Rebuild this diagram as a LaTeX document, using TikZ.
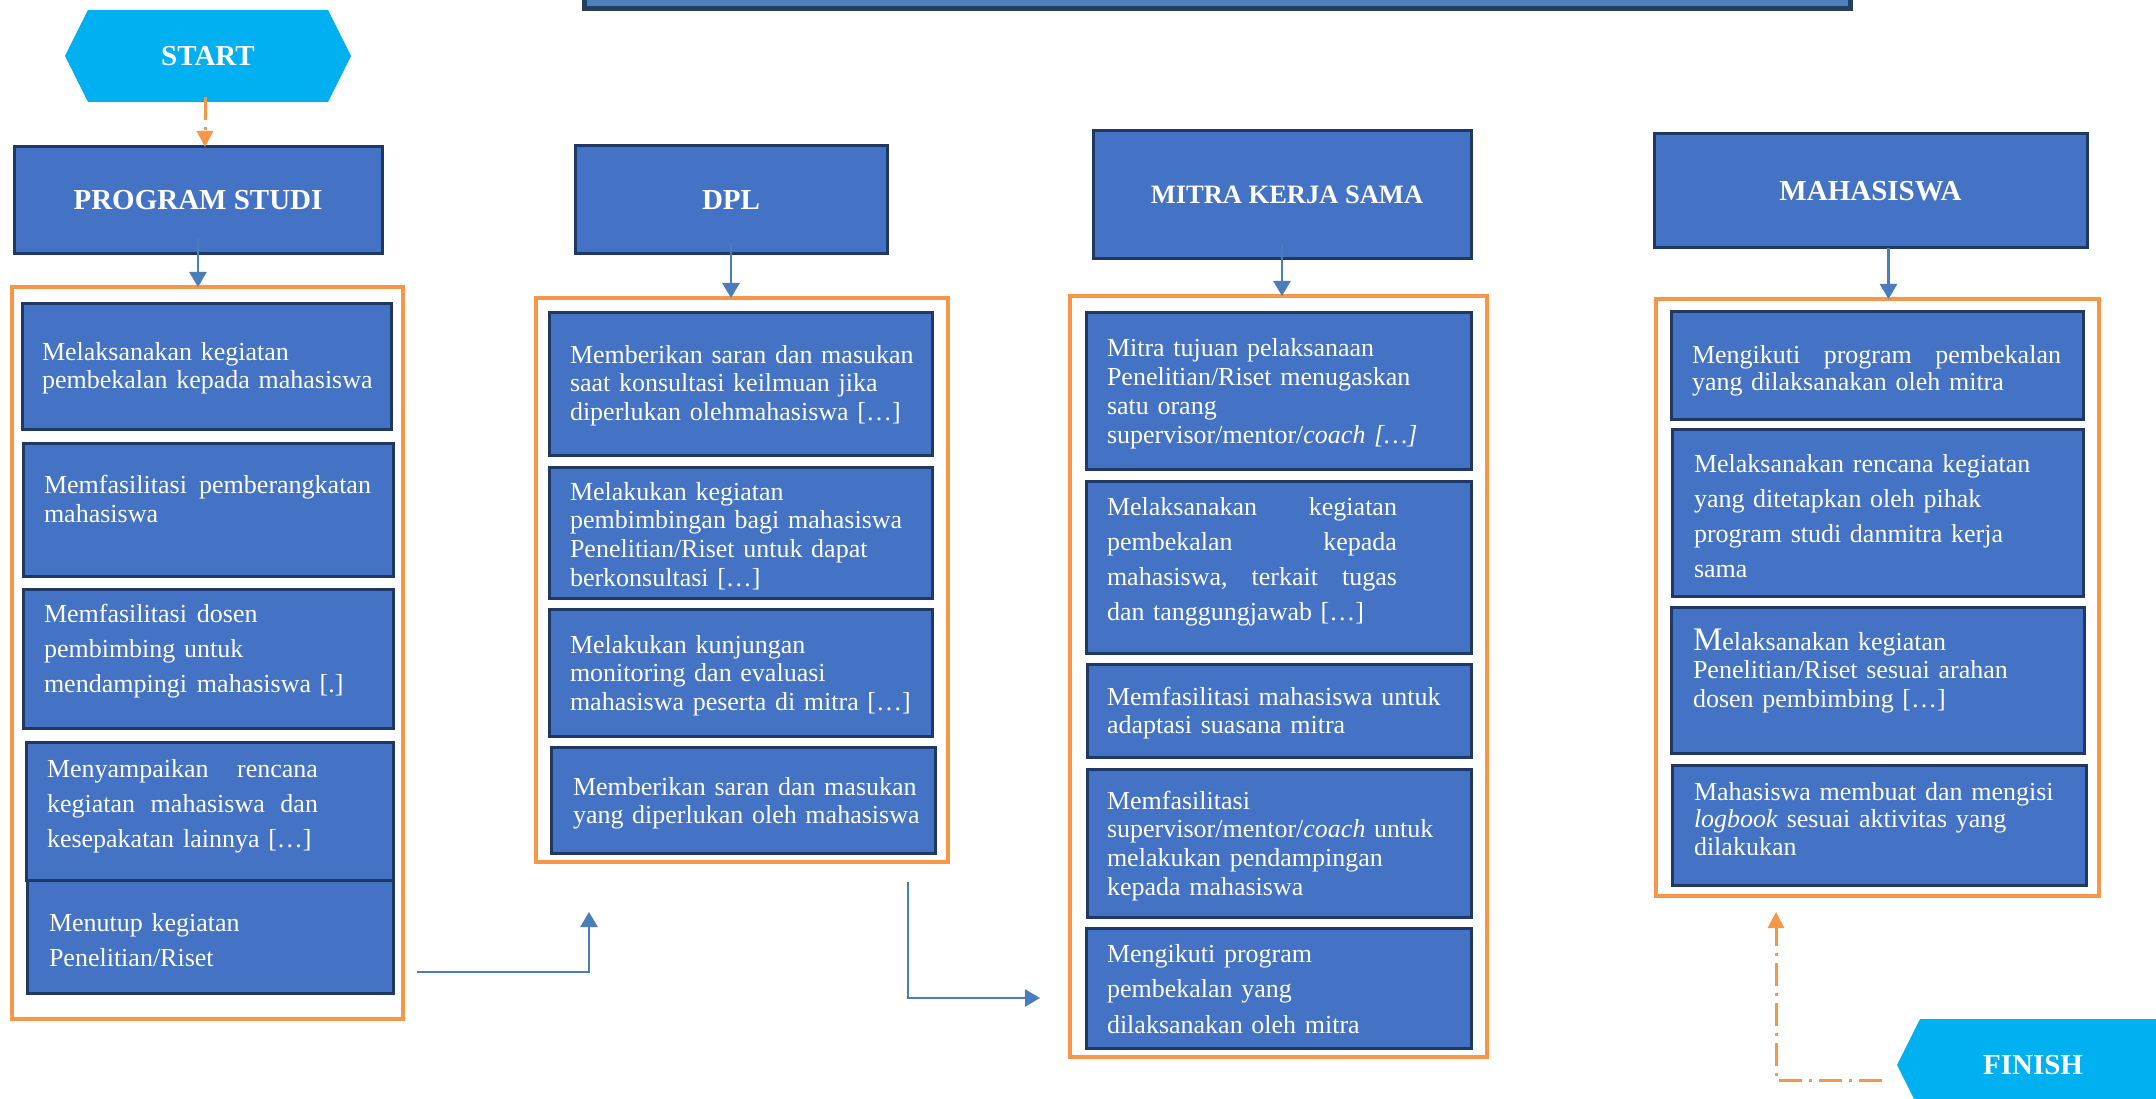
\documentclass[tikz,border=0pt]{standalone}
\usepackage{fontspec}
\setmainfont{Liberation Serif}
\usetikzlibrary{arrows.meta,fit,backgrounds}

\definecolor{boxblue}{HTML}{4472C4}
\definecolor{boxline}{HTML}{1F3864}
\definecolor{frameorange}{HTML}{F79646}
\definecolor{linkblue}{HTML}{4A7EBB}
\definecolor{termcyan}{HTML}{00B0F0}
\definecolor{bannerfill}{HTML}{4F81BD}
\definecolor{bannerline}{HTML}{243F60}

% a line of text spread to a fixed width
\newcommand\justline[2]{\leavevmode\hbox to #1{#2}}

\tikzset{
  itembox/.style={draw=boxline, fill=boxblue, line width=3pt, inner sep=0pt, outer sep=0pt},
  headbox/.style={itembox, text=white, font=\fontsize{29}{34}\selectfont\bfseries},
  lane/.style={draw=frameorange, line width=4pt, inner sep=0pt, outer sep=0pt},
  itemtext/.style={text=white, inner sep=0pt, outer sep=0pt, anchor=base west,
    text width=390pt, align=left, font=\fontsize{26}{#1}\selectfont},
  itemtext/.default=29,
  termnode/.style={minimum width=286pt, minimum height=92pt, inner sep=0pt, outer sep=0pt,
    text=white, font=\fontsize{29}{34}\selectfont\bfseries},
  hexfill/.style={fill=termcyan},
  linkarrow/.style={draw=linkblue, line width=2.5pt, -{Triangle[width=17pt,length=15pt]}},
  dasharrow/.style={draw=frameorange, line width=3pt,
    dash pattern=on 23pt off 7pt on 3pt off 7pt, -{Triangle[width=16pt,length=16pt]}},
  bannerbox/.style={draw=bannerline, fill=bannerfill, line width=5pt, inner sep=0pt, outer sep=0pt},
}

\begin{document}
\begin{tikzpicture}[x=1pt, y=-1pt]
\path[use as bounding box] (0,0) rectangle (2156,1099);

% title banner, cut by the top edge
\node[bannerbox, fit={(584,-40) (1850,9)}] (banner) {};

% start / finish terminals
\node[termnode] (start) at (208,56) {START};
\node[termnode] (finish) at (2040,1065) {FINISH\hspace*{14pt}};

% column headers
\node[headbox, minimum width=368pt, minimum height=107pt] (prodi) at (198,200.5) {PROGRAM STUDI};
\node[headbox, minimum width=312pt, minimum height=108pt] (dpl) at (731,200) {DPL};
\node[headbox, font=\fontsize{26.5}{30}\selectfont\bfseries, minimum width=378pt, minimum height=128pt] (mitra) at (1282,195) {\hspace*{10pt}MITRA KERJA SAMA};
\node[headbox, minimum width=433pt, minimum height=114pt] (mhs) at (1870.5,191) {MAHASISWA};

% orange lanes
\node[lane, fit={(12,287) (403,1019)}] (lane1) {};
\node[lane, fit={(536,298) (948,862)}] (lane2) {};
\node[lane, fit={(1070,296) (1487,1057)}] (lane3) {};
\node[lane, fit={(1656,299) (2099,896)}] (lane4) {};

% PROGRAM STUDI lane
\node[itembox, fit={(22,304) (391,429)}] (a1) {};
\node[itembox, fit={(23,443) (393,576)}] (a2) {};
\node[itembox, fit={(23,589) (393,728)}] (a3) {};
\node[itembox, fit={(26,742) (393,880)}] (a4) {};
\node[itembox, fit={(27,880) (393,993)}] (a5) {};
\node[itemtext=28] (a1t) at (42,361) {Melaksanakan kegiatan\\pembekalan kepada mahasiswa};
\node[itemtext=29] (a2t) at (44,493) {\justline{327pt}{Memfasilitasi\hfill pemberangkatan}\\mahasiswa};
\node[itemtext=35] (a3t) at (44,622) {Memfasilitasi\hspace{10pt}dosen\\pembimbing untuk\\mendampingi\hspace{10pt}mahasiswa [.]};
\node[itemtext=35] (a4t) at (47,777) {\justline{271pt}{Menyampaikan\hfill rencana}\\\justline{271pt}{kegiatan\hfill mahasiswa\hfill dan}\\kesepakatan\hspace{9pt}lainnya […]};
\node[itemtext=35] (a5t) at (49,931) {Menutup kegiatan\\Penelitian/Riset};

% DPL lane
\node[itembox, fit={(549,313) (932,455)}] (b1) {};
\node[itembox, fit={(549,467) (932,598)}] (b2) {};
\node[itembox, fit={(549,609) (932,736)}] (b3) {};
\node[itembox, fit={(551,747) (935,853)}] (b4) {};
\node[itemtext=28.5] (b1t) at (570,363) {Memberikan saran dan masukan\\saat konsultasi keilmuan jika\\diperlukan olehmahasiswa […]};
\node[itemtext=28.7] (b2t) at (570,500) {Melakukan kegiatan\\pembimbingan bagi mahasiswa\\Penelitian/Riset untuk dapat\\berkonsultasi […]};
\node[itemtext=28.5] (b3t) at (570,653) {Melakukan kunjungan\\monitoring dan evaluasi\\mahasiswa peserta di mitra […]};
\node[itemtext=28] (b4t) at (573,795) {Memberikan saran dan masukan\\yang diperlukan oleh mahasiswa};

% MITRA KERJA SAMA lane
\node[itembox, fit={(1086,313) (1471,469)}] (d1) {};
\node[itembox, fit={(1086,481) (1471,653)}] (d2) {};
\node[itembox, fit={(1087,664) (1471,757)}] (d3) {};
\node[itembox, fit={(1087,769) (1471,917)}] (d4) {};
\node[itembox, fit={(1086,928) (1471,1048)}] (d5) {};
\node[itemtext=28.7] (d1t) at (1107,357) {Mitra tujuan pelaksanaan\\Penelitian/Riset menugaskan\\satu orang\\supervisor/mentor/\textit{coach […]}};
\node[itemtext=35] (d2t) at (1107,515) {\justline{290pt}{Melaksanakan\hfill kegiatan}\\\justline{290pt}{pembekalan\hfill kepada}\\\justline{290pt}{mahasiswa,\hfill terkait\hfill tugas}\\dan tanggungjawab […]};
\node[itemtext=28] (d3t) at (1107,705) {Memfasilitasi mahasiswa untuk\\adaptasi suasana mitra};
\node[itemtext=28.7] (d4t) at (1107,809) {Memfasilitasi\\supervisor/mentor/\textit{coach} untuk\\melakukan pendampingan\\kepada mahasiswa};
\node[itemtext=35.5] (d5t) at (1107,962) {Mengikuti program\\pembekalan yang\\dilaksanakan oleh mitra};

% MAHASISWA lane
\node[itembox, fit={(1671,312) (2083,419)}] (e1) {};
\node[itembox, fit={(1672,429) (2083,596)}] (e2) {};
\node[itembox, fit={(1671,607) (2084,753)}] (e3) {};
\node[itembox, fit={(1672,765) (2086,885)}] (e4) {};
\node[itemtext=27] (e1t) at (1692,363) {\justline{369pt}{Mengikuti\hfill program\hfill pembekalan}\\yang dilaksanakan oleh mitra};
\node[itemtext=35] (e2t) at (1694,472) {Melaksanakan rencana kegiatan\\yang ditetapkan oleh pihak\\program studi danmitra kerja\\sama};
\node[itemtext=28.5] (e3t) at (1693,650) {{\fontsize{33}{28}\selectfont M}elaksanakan kegiatan\\Penelitian/Riset sesuai arahan\\dosen pembimbing […]};
\node[itemtext=27.5] (e4t) at (1694,800) {Mahasiswa membuat dan mengisi\\\textit{logbook} sesuai aktivitas yang\\dilakukan};

% hexagon outlines of the terminals, behind their labels
\begin{scope}[on background layer]
  \fill[white] (0,0) rectangle (2156,1099);
  \foreach \t in {start,finish}
    \fill[hexfill] (\t.west) -- ([xshift=23pt]\t.north west) -- ([xshift=-23pt]\t.north east)
      -- (\t.east) -- ([xshift=-23pt]\t.south east) -- ([xshift=23pt]\t.south west) -- cycle;
\end{scope}

% START -> PROGRAM STUDI
\coordinate (startfoot) at ([xshift=-3pt]start.south);
\draw[dasharrow] ([yshift=5pt]startfoot) -- (startfoot |- prodi.north);

% headers -> lanes
\draw[linkarrow] ([yshift=16pt]prodi.south) -- (prodi.south |- lane1.north);
\draw[linkarrow] ([yshift=12pt]dpl.south) -- (dpl.south |- lane2.north);
\draw[linkarrow] ([yshift=15pt]mitra.south) -- (mitra.south |- lane3.north);
\coordinate (mhsfoot) at ([xshift=18pt]mhs.south);
\draw[linkarrow] (mhsfoot) -- (mhsfoot |- lane4.north);

% hand-over between lanes
\coordinate (hop1) at (417,972);
\coordinate (land1) at (589,912);
\draw[linkarrow] (hop1) -| (land1);
\coordinate (hop2) at (908,882);
\coordinate (land2) at (1040,998);
\draw[linkarrow] (hop2) |- (land2);

% FINISH -> MAHASISWA lane
\draw[dasharrow] ([xshift=-15pt,yshift=-15pt]finish.west) -| ([xshift=-101.5pt,yshift=-16pt]lane4.south);
\end{tikzpicture}
\end{document}
